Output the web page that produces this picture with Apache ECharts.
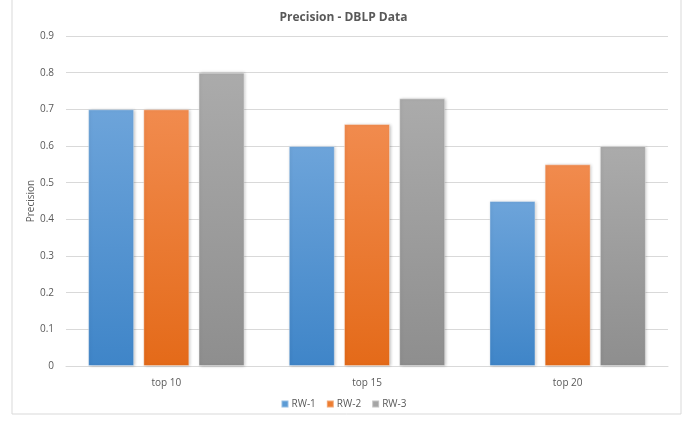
<!DOCTYPE html>
<html>
<head>
<meta charset="utf-8">
<script src="https://cdn.jsdelivr.net/npm/echarts@6/dist/echarts.min.js"></script>
<style>
html,body{margin:0;padding:0;background:#fff;}
#chart{width:687px;height:421px;}
</style>
</head>
<body>
<div id="chart"></div>
<script>
// Precision values per ranking cut-off for each random-walk variant
const categories = ['top 10', 'top 15', 'top 20'];
const rw1 = [0.70, 0.60, 0.45];
const rw2 = [0.70, 0.66, 0.55];
const rw3 = [0.80, 0.73, 0.60];
const seriesNames = ['RW-1', 'RW-2', 'RW-3'];
const yTicks = { min: 0, max: 0.9, step: 0.1 };

const FONT = '"Open Sans", "Liberation Sans", sans-serif';
const TEXT = '#595959';

function grad(top, bottom) {
  return new echarts.graphic.LinearGradient(0, 0, 0, 1, [
    { offset: 0, color: top },
    { offset: 1, color: bottom }
  ]);
}

const palette = [
  { fill: grad('#6da4da', '#3f85c8'), legend: '#5b9bd5' },
  { fill: grad('#f18b4e', '#e46a19'), legend: '#ed7d31' },
  { fill: grad('#ababab', '#8e8e8e'), legend: '#a5a5a5' }
];

const values = [rw1, rw2, rw3];

const chart = echarts.init(document.getElementById('chart'));
chart.setOption({
  animation: false,
  backgroundColor: '#fff',
  graphic: [{
    type: 'rect',
    shape: { x: 12, y: -2, width: 669, height: 416 },
    style: { fill: 'none', stroke: '#d9d9d9', lineWidth: 1 },
    silent: true,
    z: -1
  }],
  title: {
    text: 'Precision - DBLP Data',
    left: 'center',
    top: 7,
    textStyle: { fontFamily: FONT, fontSize: 12, fontWeight: 'bold', color: TEXT }
  },
  legend: {
    bottom: 7,
    left: 'center',
    itemWidth: 7,
    itemHeight: 7,
    itemGap: 10,
    icon: 'rect',
    textStyle: { fontFamily: FONT, fontSize: 10, color: TEXT, padding: [0, 0, 0, -2] },
    data: seriesNames.map((n, i) => ({ name: n, itemStyle: { color: palette[i].legend } }))
  },
  grid: { left: 66, right: 19, top: 36, bottom: 55, containLabel: false },
  xAxis: {
    type: 'category',
    data: categories,
    axisLine: { lineStyle: { color: '#d9d9d9' } },
    axisTick: { show: false },
    axisLabel: { fontFamily: FONT, fontSize: 10, color: TEXT, margin: 12 }
  },
  yAxis: {
    type: 'value',
    min: yTicks.min,
    max: yTicks.max,
    interval: yTicks.step,
    name: 'Precision',
    nameLocation: 'middle',
    nameGap: 30,
    nameMoveOverlap: false,
    nameTextStyle: { fontFamily: FONT, fontSize: 10, color: TEXT },
    axisLine: { show: false },
    axisTick: { show: false },
    axisLabel: {
      fontFamily: FONT, fontSize: 10, color: TEXT, margin: 12,
      formatter: v => (Math.round(v * 10) / 10).toString()
    },
    splitLine: { lineStyle: { color: '#d9d9d9' } }
  },
  series: seriesNames.map((name, i) => ({
    name: name,
    type: 'bar',
    data: values[i],
    barWidth: 46,
    barGap: '20%',
    itemStyle: {
      color: palette[i].fill,
      borderColor: 'rgba(255,255,255,0.35)',
      borderWidth: 1,
      shadowColor: 'rgba(0,0,0,0.25)',
      shadowBlur: 3,
      shadowOffsetX: 1,
      shadowOffsetY: 0
    }
  }))
});
</script>
</body>
</html>
